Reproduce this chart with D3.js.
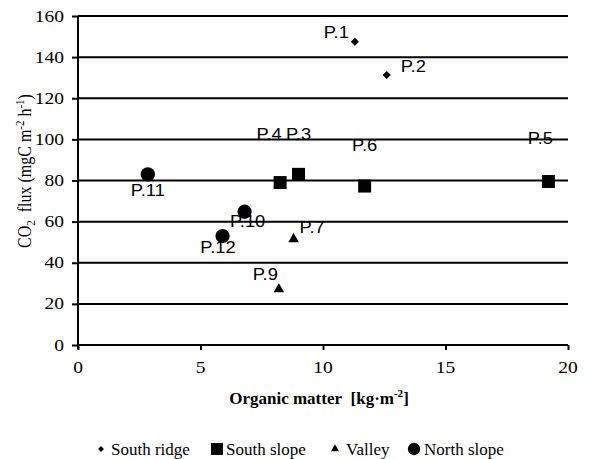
<!DOCTYPE html>
<html>
<head>
<meta charset="utf-8">
<script src="https://cdn.jsdelivr.net/npm/d3@7"></script>
<style>
  html, body { margin: 0; padding: 0; background: #fff; }
  svg { display: block; }
</style>
</head>
<body>
<svg id="chart" width="604" height="459"></svg>
<script>
// Sampling sites: organic matter (kg·m-2) vs CO2 flux (mgC m-2 h-1)
const groups = ["South ridge", "South slope", "Valley", "North slope"];
const siteNames = ["P.1", "P.2", "P.3", "P.4", "P.5", "P.6", "P.7", "P.9", "P.10", "P.11", "P.12"];
const siteGroup = ["South ridge", "South ridge", "South slope", "South slope", "South slope", "South slope",
                   "Valley", "Valley", "North slope", "North slope", "North slope"];
const organicMatter = [11.3, 12.6, 9.0, 8.25, 19.2, 11.7, 8.8, 8.2, 6.8, 2.85, 5.9];
const co2Flux = [147.5, 131.3, 83, 79, 79.5, 77.3, 51.5, 27.1, 64.8, 83, 53];
const xTicks = [0, 5, 10, 15, 20];
const yTicks = [0, 20, 40, 60, 80, 100, 120, 140, 160];

// Hand placement of each point label around its marker
const labelPlacement = {
  "P.1": { anchor: "end", dx: -6, dy: -4 },
  "P.2": { anchor: "start", dx: 14, dy: -3 },
  "P.3": { anchor: "middle", dx: 0, dy: -34 },
  "P.4": { anchor: "middle", dx: -11, dy: -43 },
  "P.5": { anchor: "middle", dx: -8, dy: -38 },
  "P.6": { anchor: "middle", dx: 0, dy: -35 },
  "P.7": { anchor: "start", dx: 6, dy: -6 },
  "P.9": { anchor: "end", dx: -1, dy: -9 },
  "P.10": { anchor: "middle", dx: 3, dy: 15 },
  "P.11": { anchor: "middle", dx: 0, dy: 22 },
  "P.12": { anchor: "middle", dx: -4.5, dy: 17 }
};

const sites = siteNames.map((n, i) => ({ name: n, group: siteGroup[i], x: organicMatter[i], y: co2Flux[i] }));

const svg = d3.select("#chart");
const plotLeft = 78, plotRight = 568, plotTop = 16, plotBottom = 345;
const x = d3.scaleLinear().domain([0, 20]).range([plotLeft, plotRight]);
const y = d3.scaleLinear().domain([0, 160]).range([plotBottom, plotTop]);

const SERIF = "'Liberation Serif', 'Times New Roman', serif";
const SANS = "'Liberation Sans', Arial, sans-serif";

// Text helper; sx widens the glyphs horizontally
function label(parent, px, py, str, opts) {
  const g = parent.append("g").attr("transform", `translate(${px},${py}) scale(${opts.sx || 1},1)`);
  return g.append("text")
    .attr("text-anchor", opts.anchor || "start")
    .style("font-family", opts.family || SERIF)
    .style("font-size", (opts.size || 18) + "px")
    .style("font-weight", opts.weight || "normal")
    .attr("fill", "#000")
    .text(str);
}

// Horizontal gridlines
svg.append("g").selectAll("line").data(yTicks).join("line")
  .attr("x1", plotLeft).attr("x2", plotRight)
  .attr("y1", d => y(d)).attr("y2", d => y(d))
  .attr("stroke", "#000").attr("stroke-width", 2);

// Y axis
const yAxis = svg.append("g").attr("transform", `translate(${plotLeft},0)`)
  .call(d3.axisLeft(y).tickValues(yTicks).tickSize(6).tickFormat(""));
yAxis.select(".domain").attr("stroke", "#000").attr("stroke-width", 2).attr("d", `M0,${plotTop}V${plotBottom + 4}`);
yAxis.selectAll(".tick line").attr("stroke", "#000").attr("stroke-width", 2);
yTicks.forEach(t => label(svg, 64, y(t) + 5.5, String(t), { anchor: "end", size: 16, sx: 1.22 }));

// X axis
const xAxis = svg.append("g").attr("transform", `translate(0,${plotBottom})`)
  .call(d3.axisBottom(x).tickValues(xTicks).tickSize(5).tickFormat(""));
xAxis.select(".domain").attr("stroke", "#000").attr("stroke-width", 2).attr("d", `M${plotLeft},0H${plotRight}`);
xAxis.selectAll(".tick line").attr("stroke", "#000").attr("stroke-width", 2);
xTicks.forEach(t => label(svg, x(t), 373, String(t), { anchor: "middle", size: 16, sx: 1.22 }));

// Axis titles
const xt = label(svg, 319, 404, "", { anchor: "middle", size: 17, weight: "bold" });
xt.append("tspan").text("Organic matter\u00a0\u00a0[kg·m");
xt.append("tspan").style("font-size", "11px").attr("dy", -7).text("-2");
xt.append("tspan").attr("dy", 7).text("]");

const ytG = svg.append("g").attr("transform", "translate(31,171) scale(1.12,1) rotate(-90)");
const yt = ytG.append("text").attr("text-anchor", "middle")
  .style("font-family", SERIF).style("font-size", "16px").attr("fill", "#000");
yt.append("tspan").text("CO");
yt.append("tspan").style("font-size", "11px").attr("dy", 4).text("2");
yt.append("tspan").attr("dy", -4).text("\u00a0 flux (mgC m");
yt.append("tspan").style("font-size", "11px").attr("dy", -6).text("-2");
yt.append("tspan").attr("dy", 6).text(" h");
yt.append("tspan").style("font-size", "11px").attr("dy", -6).text("-1");
yt.append("tspan").attr("dy", 6).text(")");

// Marker shapes per group
const markerPath = {
  "South ridge": d3.symbol().type(d3.symbolDiamond2).size(42)(),
  "South slope": d3.symbol().type(d3.symbolSquare).size(169)(),
  "Valley": d3.symbol().type(d3.symbolTriangle).size(48)(),
  "North slope": d3.symbol().type(d3.symbolCircle).size(160)()
};
const legendPath = {
  "South ridge": d3.symbol().type(d3.symbolDiamond2).size(22)(),
  "South slope": d3.symbol().type(d3.symbolSquare).size(144)(),
  "Valley": d3.symbol().type(d3.symbolTriangle).size(28)(),
  "North slope": d3.symbol().type(d3.symbolCircle).size(120)()
};

// Points
svg.append("g").selectAll("path").data(sites).join("path")
  .attr("transform", d => `translate(${x(d.x)},${y(d.y)})`)
  .attr("d", d => markerPath[d.group])
  .attr("fill", "#000");

// Point labels
sites.forEach(d => {
  const p = labelPlacement[d.name];
  label(svg, x(d.x) + p.dx, y(d.y) + p.dy, d.name,
    { anchor: p.anchor, family: SANS, size: 17, sx: 1.08 });
});

// Legend
const legendX = [101, 217, 335, 414];
const textX = [111, 226, 346, 424];
groups.forEach((g, i) => {
  svg.append("path").attr("transform", `translate(${legendX[i]},449)`)
    .attr("d", legendPath[g]).attr("fill", "#000");
  label(svg, textX[i], 455, g, { size: 17 });
});
</script>
</body>
</html>
